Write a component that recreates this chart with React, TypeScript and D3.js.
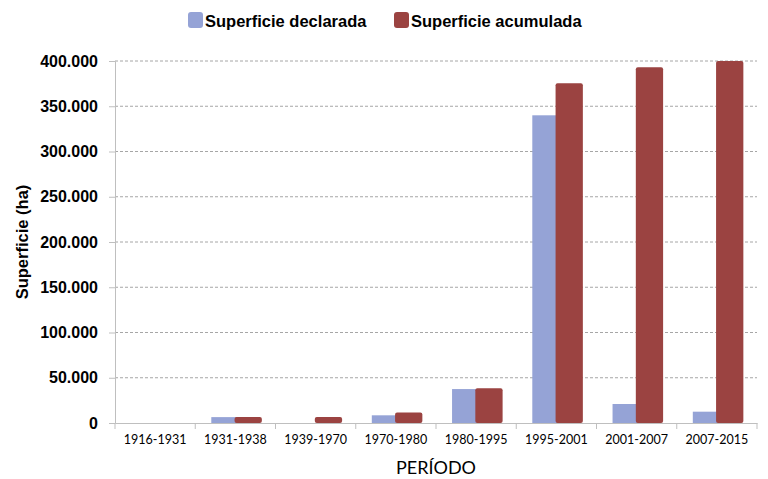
import React, { useEffect, useRef } from 'react';
import * as d3 from 'd3';

const periods = ['1916-1931', '1931-1938', '1939-1970', '1970-1980', '1980-1995', '1995-2001', '2001-2007', '2007-2015'];
const declarada = [0, 6500, 0, 8500, 37500, 340000, 21000, 12500];
const acumulada = [0, 6500, 6500, 11500, 38500, 375500, 393000, 400000];
const yTicks = [0, 50000, 100000, 150000, 200000, 250000, 300000, 350000, 400000];

const BLUE = '#95a3d6';
const RED = '#9b4341';

const fmt = (v: number) => (v === 0 ? '0' : d3.format(',.0f')(v).replace(/,/g, '.'));

const App: React.FC = () => {
  const svgRef = useRef<SVGSVGElement | null>(null);

  useEffect(() => {
    const svg = d3.select(svgRef.current);
    svg.selectAll('*').remove();
    const width = 768;
    const height = 479;
    const margin = { top: 61, right: 11, bottom: 56, left: 115 };

    const x = d3
      .scaleBand()
      .domain(periods)
      .range([margin.left, width - margin.right]);

    const y = d3
      .scaleLinear()
      .domain([0, 400000])
      .range([height - margin.bottom, margin.top]);

    // gridlines
    svg
      .append('g')
      .selectAll('line')
      .data(yTicks.filter(d => d > 0))
      .enter()
      .append('line')
      .attr('x1', margin.left)
      .attr('x2', width - margin.right)
      .attr('y1', d => y(d))
      .attr('y2', d => y(d))
      .attr('stroke', '#a6a6a6')
      .attr('stroke-dasharray', '3,2');

    // y axis
    const yAxis = svg
      .append('g')
      .attr('transform', `translate(${margin.left},0)`)
      .call(d3.axisLeft(y).tickValues(yTicks).tickSize(6).tickPadding(11).tickFormat(d => fmt(+d)) as any);
    yAxis.select('.domain').attr('stroke', '#bfbfbf');
    yAxis.selectAll('.tick line').attr('stroke', '#bfbfbf');
    yAxis
      .selectAll('.tick text')
      .attr('font-family', 'Liberation Sans, Arial, sans-serif')
      .attr('font-weight', 'bold')
      .attr('font-size', 16)
      .attr('transform', 'scale(1,1)')
      .attr('fill', '#000');

    // x axis
    const xAxis = svg
      .append('g')
      .attr('transform', `translate(0,${y(0)})`)
      .call(d3.axisBottom(x).tickSize(0).tickPadding(12) as any);
    xAxis.select('.domain').attr('stroke', '#bfbfbf');
    xAxis
      .selectAll('.tick text')
      .attr('font-family', 'Lato, Open Sans, sans-serif')
      .attr('font-size', 12.5)
      .attr('fill', '#000');
    svg
      .append('g')
      .selectAll('line')
      .data(d3.range(periods.length + 1))
      .enter()
      .append('line')
      .attr('x1', i => margin.left + i * x.step())
      .attr('x2', i => margin.left + i * x.step())
      .attr('y1', y(0))
      .attr('y2', y(0) + 6)
      .attr('stroke', '#bfbfbf');

    const bw = x.bandwidth();
    const barW = bw * 0.34;
    const groupStart = bw * 0.2;
    const overlap = bw * 0.05;

    svg
      .append('g')
      .selectAll('rect')
      .data(periods)
      .enter()
      .append('rect')
      .attr('x', d => x(d)! + groupStart)
      .attr('y', (d, i) => y(declarada[i]))
      .attr('width', barW)
      .attr('height', (d, i) => y(0) - y(declarada[i]))
      .attr('fill', BLUE);

    svg
      .append('g')
      .selectAll('rect')
      .data(periods)
      .enter()
      .append('rect')
      .attr('x', d => x(d)! + groupStart + barW - overlap)
      .attr('y', (d, i) => y(acumulada[i]))
      .attr('width', barW)
      .attr('height', (d, i) => y(0) - y(acumulada[i]))
      .attr('rx', 2)
      .attr('fill', RED);

    // axis titles
    svg
      .append('text')
      .attr('x', (margin.left + width - margin.right) / 2)
      .attr('y', 474)
      .attr('text-anchor', 'middle')
      .attr('font-family', 'Lato, Open Sans, sans-serif')
      .attr('font-size', 18)
      .text('PERÍODO');

    svg
      .append('text')
      .attr('transform', `translate(28,${(margin.top + y(0)) / 2 + 0}) rotate(-90)`)
      .attr('text-anchor', 'middle')
      .attr('font-family', 'Liberation Sans, Arial, sans-serif')
      .attr('font-weight', 'bold')
      .attr('font-size', 16.5)
      .text('Superficie (ha)');

    // legend
    const legend = [
      { name: 'Superficie declarada', color: BLUE, x: 188 },
      { name: 'Superficie acumulada', color: RED, x: 394 },
    ];
    const lg = svg.append('g').selectAll('g').data(legend).enter().append('g');
    lg.append('rect')
      .attr('x', d => d.x)
      .attr('y', 12)
      .attr('width', 15)
      .attr('height', 16)
      .attr('rx', 3)
      .attr('fill', d => d.color);
    lg.append('text')
      .attr('x', d => d.x + 17)
      .attr('y', 27)
      .attr('font-family', 'Liberation Sans, Arial, sans-serif')
      .attr('font-weight', 'bold')
      .attr('font-size', 16.5)
      .text(d => d.name);
  }, []);

  return (
    <div style={{ position: 'absolute', left: 0, top: 0 }}>
      <svg ref={svgRef} width={768} height={479} style={{ display: 'block', background: '#fff' }}></svg>
    </div>
  );
};

export default App;
